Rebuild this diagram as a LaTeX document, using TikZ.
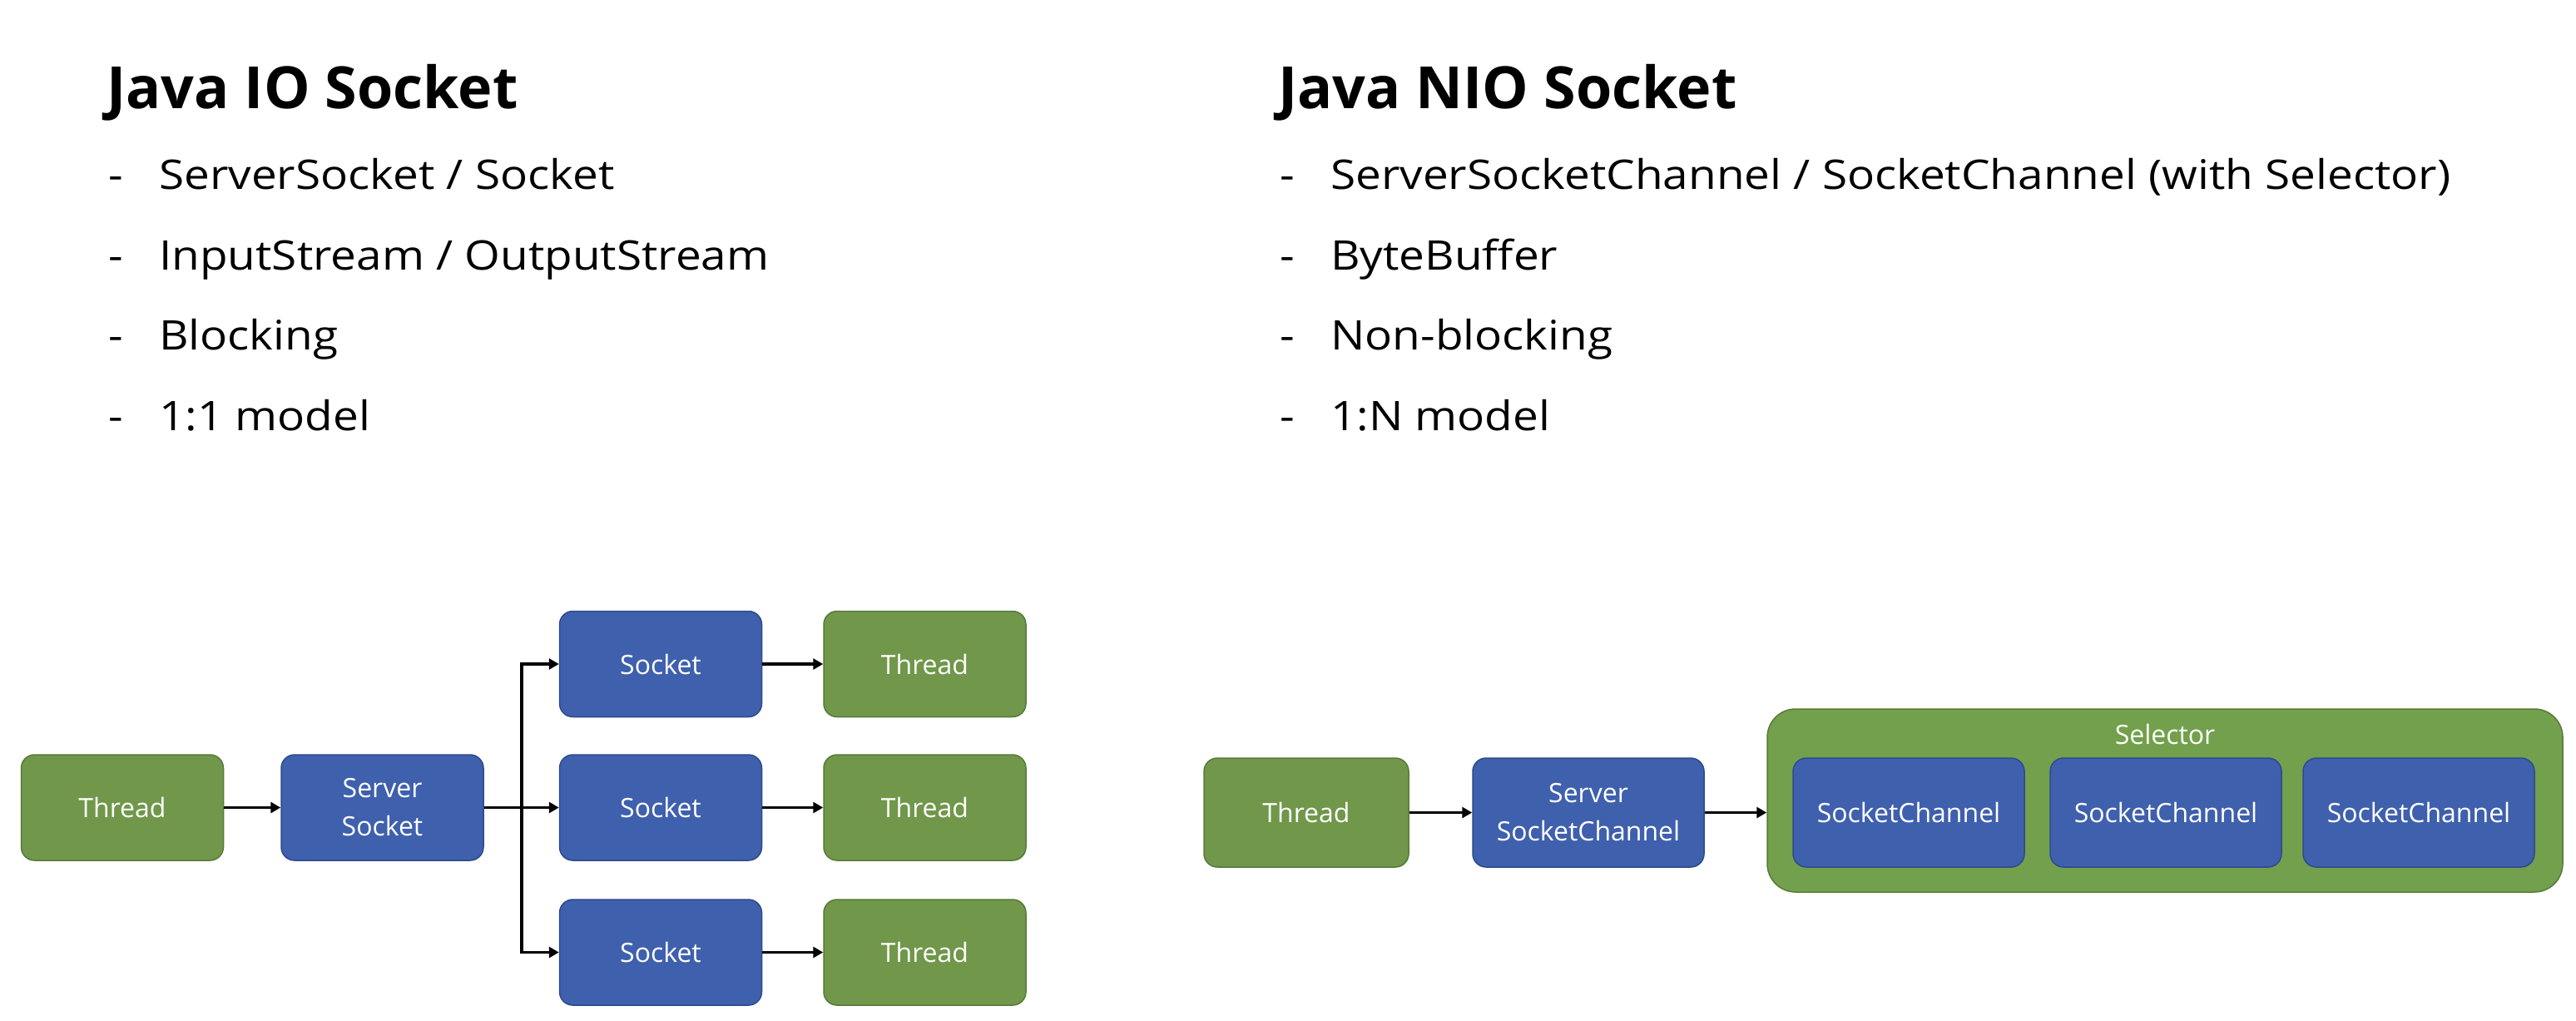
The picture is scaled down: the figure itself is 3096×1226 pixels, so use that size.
\documentclass[tikz,border=0pt]{standalone}
\usepackage{fontspec}
\setmainfont{Open Sans}
\newfontfamily\bodyfam[FakeStretch=1.12]{Open Sans}
\newfontfamily\boxfam{Open Sans}
\usetikzlibrary{arrows.meta}
\definecolor{gfill}{HTML}{70974A}
\definecolor{gline}{HTML}{587A3A}
\definecolor{bfill}{HTML}{3F60AD}
\definecolor{bline}{HTML}{2E4A8C}
\definecolor{selfill}{HTML}{73A04C}
\begin{document}
\begin{tikzpicture}[x=1pt,y=-1pt,
  titletext/.style={anchor=base west, inner sep=0pt, font=\fontsize{70}{84}\selectfont\bfseries},
  bodytext/.style={anchor=base west, inner sep=0pt, font=\bodyfam\fontsize{49}{60}\selectfont},
  boxbase/.style={rounded corners=16pt, line width=1.5pt, text=white, align=center, inner sep=0pt,
    font=\boxfam\fontsize{32}{46}\selectfont},
  gbox/.style={boxbase, draw=gline, fill=gfill},
  bbox/.style={boxbase, draw=bline, fill=bfill},
  smallbox/.style={minimum width=243pt, minimum height=127pt},
  nbox/.style={minimum height=131pt},
  arr/.style={-{Triangle[length=12pt,width=13pt]}, line width=3.5pt, black}
]
\useasboundingbox[fill=white] (0,0) rectangle (3096,1226);

% ---------- left text ----------
\node[titletext] (ltitle) at (128,130) {Java IO Socket};
\node[bodytext] (ld1) at (130,227) {-};
\node[bodytext] (ld2) at (130,324) {-};
\node[bodytext] (ld3) at (130,420) {-};
\node[bodytext] (ld4) at (130,517) {-};
\node[bodytext] (l1) at (191,227) {ServerSocket / Socket};
\node[bodytext] (l2) at (191,324) {InputStream / OutputStream};
\node[bodytext] (l3) at (191,420) {Blocking};
\node[bodytext] (l4) at (191,517) {1:1 model};

% ---------- right text ----------
\node[titletext] (rtitle) at (1536,130) {Java NIO Socket};
\node[bodytext] (rd1) at (1538,227) {-};
\node[bodytext] (rd2) at (1538,324) {-};
\node[bodytext] (rd3) at (1538,420) {-};
\node[bodytext] (rd4) at (1538,517) {-};
\node[bodytext] (r1) at (1599,227) {ServerSocketChannel / SocketChannel (with Selector)};
\node[bodytext] (r2) at (1599,324) {ByteBuffer};
\node[bodytext] (r3) at (1599,420) {Non-blocking};
\node[bodytext] (r4) at (1599,517) {1:N model};

% ---------- left diagram ----------
\node[gbox, smallbox] (t0) at (147,970.5) {Thread};
\node[bbox, smallbox] (ss) at (459.5,970.5) {Server\\Socket};
\node[bbox, smallbox] (s1) at (794,798) {Socket};
\node[bbox, smallbox] (s2) at (794,970.5) {Socket};
\node[bbox, smallbox] (s3) at (794,1144.5) {Socket};
\node[gbox, smallbox] (t1) at (1111.5,798) {Thread};
\node[gbox, smallbox] (t2) at (1111.5,970.5) {Thread};
\node[gbox, smallbox] (t3) at (1111.5,1144.5) {Thread};
\coordinate (br) at (627,970.5);

\draw[arr] (t0) -- (ss);
\draw[arr] (ss) -- (s2);
\draw[arr] (br) |- (s1.west);
\draw[arr] (br) |- (s3.west);
\draw[arr] (s1) -- (t1);
\draw[arr] (s2) -- (t2);
\draw[arr] (s3) -- (t3);

% ---------- right diagram ----------
\node[gbox, nbox, minimum width=246pt] (nt) at (1570,976.5) {Thread};
\node[bbox, nbox, minimum width=278pt] (nss) at (1909,976.5) {Server\\SocketChannel};
\node[gbox, fill=selfill, rounded corners=34pt, minimum width=956pt, minimum height=220pt] (sel) at (2602,962) {};
\node[anchor=base, inner sep=0pt, text=white, font=\boxfam\fontsize{32}{46}\selectfont] (sellbl) at (2602,894) {Selector};
\node[bbox, nbox, minimum width=278pt] (sc1) at (2294,976.5) {SocketChannel};
\node[bbox, nbox, minimum width=278pt] (sc2) at (2603,976.5) {SocketChannel};
\node[bbox, nbox, minimum width=278pt] (sc3) at (2907,976.5) {SocketChannel};

\draw[arr] (nt) -- (nss);
\draw[arr] (nss.east) -- (nss.east -| sel.west);
\end{tikzpicture}
\end{document}
